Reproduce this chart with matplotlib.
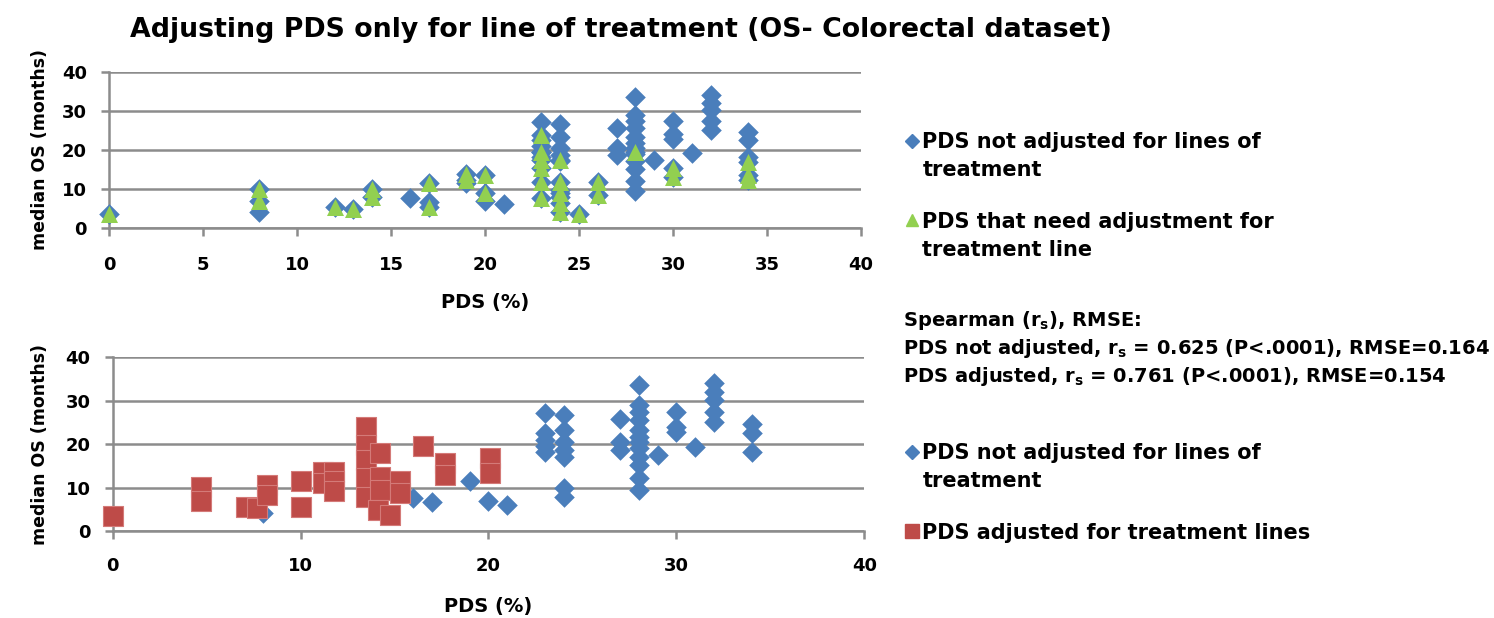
import numpy as np
import matplotlib.pyplot as plt
from matplotlib.lines import Line2D

# 字体设置
plt.rcParams['font.family'] = ['DejaVu Sans']
plt.rcParams['font.weight'] = 'bold'
plt.rcParams['mathtext.fontset'] = 'custom'
plt.rcParams['mathtext.rm'] = 'DejaVu Sans:bold'
plt.rcParams['mathtext.bf'] = 'DejaVu Sans:bold'
plt.rcParams['mathtext.default'] = 'rm'

# PDS not adjusted (blue, shown in both panels)
unadj_x = [8, 16, 17, 19, 20, 21,
           23, 23, 23, 23, 23,
           24, 24, 24, 24, 24, 24, 24,
           27, 27, 27,
           28, 28, 28, 28, 28, 28, 28, 28, 28, 28, 28, 28,
           29, 30, 30, 30, 31,
           32, 32, 32, 32, 32,
           34, 34, 34]
unadj_y = [4.2, 7.6, 6.6, 11.5, 6.9, 6.1,
           27.1, 22.5, 21.0, 19.5, 18.3,
           26.7, 23.3, 20.6, 18.7, 17.1, 9.8, 7.9,
           25.7, 20.6, 18.7,
           33.6, 29.0, 27.5, 25.6, 23.3, 21.7, 20.6, 19.0, 17.1, 15.2, 12.1, 9.4,
           17.5, 27.5, 24.0, 22.9, 19.3,
           34.0, 32.1, 30.2, 27.5, 25.2,
           24.7, 22.5, 18.3]

# PDS that need adjustment for treatment line (green, top panel)
need_x = [0, 8, 8, 12, 13, 14, 14, 17, 17, 19, 19, 20, 20,
          23, 23, 23, 23, 23, 23,
          24, 24, 24, 24, 24,
          25, 26, 26, 28, 30, 30, 34, 34, 34]
need_y = [3.5, 10.0, 6.8, 5.5, 5.0, 10.0, 8.0, 11.5, 5.5, 13.8, 12.2, 13.6, 9.0,
          23.8, 19.6, 17.5, 15.3, 11.9, 7.6,
          17.4, 11.9, 8.9, 6.3, 4.2,
          3.5, 11.9, 8.5, 19.6, 15.3, 13.2, 17.0, 13.6, 12.3]

# PDS adjusted for treatment lines (red, bottom panel)
adj_x = [0, 4.7, 4.7, 7.1, 7.7, 8.2, 8.2, 10.0, 10.0, 11.2, 11.2,
         11.8, 11.8, 11.8, 13.5, 13.5, 13.5, 13.5, 13.5,
         14.2, 14.2, 14.2, 14.1, 14.75, 15.3, 15.3, 16.5, 17.7, 17.7, 20.1, 20.1]
adj_y = [3.5, 10.2, 6.8, 5.6, 5.2, 10.6, 8.3, 11.5, 5.5, 13.7, 11.0,
         13.7, 11.4, 9.1, 24.0, 19.8, 16.4, 12.1, 7.9,
         17.9, 12.5, 9.4, 4.8, 3.7, 11.4, 8.7, 19.6, 15.6, 12.9, 16.8, 13.3]

title = "Adjusting PDS only for line of treatment (OS- Colorectal dataset)"
stats_lines = ["Spearman (r$_\\mathrm{s}$), RMSE:",
               "PDS not adjusted, r$_\\mathrm{s}$ = 0.625 (P<.0001), RMSE=0.164",
               "PDS adjusted, r$_\\mathrm{s}$ = 0.761 (P<.0001), RMSE=0.154"]
lbl_unadj = ["PDS not adjusted for lines of", "treatment"]
lbl_need = ["PDS that need adjustment for", "treatment line"]
lbl_adj = ["PDS adjusted for treatment lines", ""]

BLUE = '#4A7EBB'
GREEN = '#92D050'
RED = '#BE4B48'
GRID = '#8C8C8C'

W, H = 1494, 618
fig = plt.figure(figsize=(W / 100, H / 100), dpi=100)
ax1 = fig.add_axes([109 / W, 1 - 228 / H, 752 / W, 156 / H])
ax2 = fig.add_axes([112.7 / W, 1 - 531 / H, 751.6 / W, 173.7 / H])


def style_axis(ax, xticks, xpad, ylab_x, xlab_y):
    ax.set_xlim(0, 40)
    ax.set_ylim(0, 40)
    ax.set_xticks(xticks)
    ax.set_yticks([0, 10, 20, 30, 40])
    ax.yaxis.grid(True, color=GRID, lw=1.8)
    ax.set_axisbelow(True)
    ax.spines['top'].set_visible(False)
    ax.spines['right'].set_visible(False)
    for s in ['left', 'bottom']:
        ax.spines[s].set_color(GRID)
        ax.spines[s].set_linewidth(1.8)
    ax.tick_params(axis='both', colors=GRID, labelcolor='black', width=1.8,
                   length=6, labelsize=13)
    ax.tick_params(axis='x', pad=xpad)
    ax.tick_params(axis='y', pad=10)
    ax.set_ylabel("median OS (months)", fontsize=12.5, fontweight='bold')
    ax.set_xlabel("PDS (%)", fontsize=14, fontweight='bold')
    ax.yaxis.set_label_coords(ylab_x, 0.5)
    ax.xaxis.set_label_coords(0.5, xlab_y)


style_axis(ax1, np.arange(0, 41, 5), 14, -0.080, -0.417)
style_axis(ax2, np.arange(0, 41, 10), 13, -0.085, -0.38)

# 上图
ax1.scatter(unadj_x + need_x, unadj_y + need_y, marker='D', s=110, color=BLUE,
            linewidths=0, zorder=3, clip_on=False)
ax1.scatter(need_x, need_y, marker='^', s=150, color=GREEN,
            linewidths=0, zorder=4, clip_on=False)

# 下图
ax2.scatter(unadj_x, unadj_y, marker='D', s=110, color=BLUE,
            linewidths=0, zorder=3, clip_on=False)
ax2.scatter(adj_x, adj_y, marker='s', s=200, color=RED, edgecolors='#D47A78',
            linewidths=0.8, zorder=4, clip_on=False)

fig.text(621 / W, 1 - 30 / H, title, fontsize=19.3, fontweight='bold',
         ha='center', va='center')

for i, line in enumerate(stats_lines):
    fig.text(903 / W, 1 - (320 + 28.5 * i) / H, line, fontsize=14,
             fontweight='bold', ha='left', va='center')


def make_legend(ax, handles, labels, top_px):
    leg = ax.legend(handles, [l[0] for l in labels], loc='upper left',
                    bbox_to_anchor=(905.75 / W, 1 - top_px / H),
                    bbox_transform=fig.transFigure, frameon=False,
                    borderpad=0, borderaxespad=0, handlelength=0.6,
                    handletextpad=0.2, labelspacing=2.86,
                    prop={'size': 15, 'weight': 'bold'})
    return leg


leg1 = make_legend(ax1, [Line2D([], [], ls='', marker='D', ms=7, color=BLUE),
                         Line2D([], [], ls='', marker='^', ms=9, color=GREEN)],
                   [lbl_unadj, lbl_need], 132)
leg2 = make_legend(ax2, [Line2D([], [], ls='', marker='D', ms=7, color=BLUE),
                         Line2D([], [], ls='', marker='s', ms=10, color=RED)],
                   [lbl_unadj, lbl_adj], 443)

# 图例第二行
fig.canvas.draw()
renderer = fig.canvas.get_renderer()
for leg, labels in [(leg1, [lbl_unadj, lbl_need]), (leg2, [lbl_unadj, lbl_adj])]:
    for t, lab in zip(leg.get_texts(), labels):
        if not lab[1]:
            continue
        bb = t.get_window_extent(renderer)
        cy = (bb.y0 + bb.y1) / 2 - 28
        fig.text(bb.x0 / W, cy / H, lab[1], fontsize=15, fontweight='bold',
                 ha='left', va='center')

fig.savefig("out.png", dpi=100)
